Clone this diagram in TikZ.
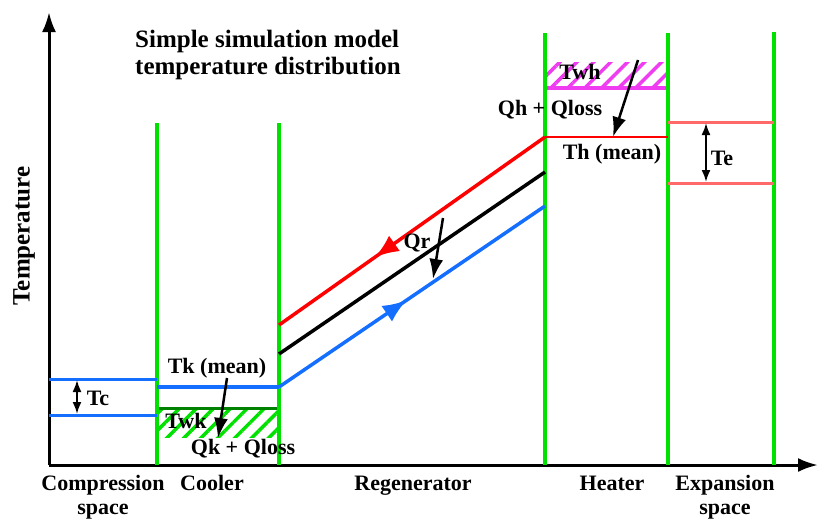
\documentclass[tikz,border=0pt]{standalone}
\usepackage{fontspec}
\setmainfont{Liberation Serif}
\usetikzlibrary{arrows.meta,patterns.meta,decorations.markings}

\definecolor{wallgreen}{RGB}{0,225,0}
\definecolor{darkwall}{RGB}{0,130,0}
\definecolor{coldblue}{RGB}{20,110,255}
\definecolor{hotred}{RGB}{255,0,0}
\definecolor{hotpink}{RGB}{240,60,240}
\definecolor{salmon}{RGB}{255,105,105}

\begin{document}
\begin{tikzpicture}[x=1pt, y=-1pt, >={Latex[length=20pt,width=14pt]},
    lbl/.style={font=\bfseries\fontsize{22}{24}\selectfont, inner sep=0pt},
    big/.style={font=\bfseries\fontsize{25}{27}\selectfont, inner sep=0pt},
    wall/.style={wallgreen, line width=3.5pt},
    gasline/.style={line width=3.5pt},
    heatflow/.style={line width=2.5pt, ->},
    span/.style={line width=2pt, {Latex[length=12pt,width=9pt]}-{Latex[length=12pt,width=9pt]}},
    hatch/.style={pattern={Lines[angle=45,distance=12pt,line width=3.5pt]}, pattern color=#1}]
    \useasboundingbox (0,0) rectangle (821,520);

    % axes
    \coordinate (origin) at (49,465);
    \coordinate (ytip) at (49,12);
    \coordinate (xtip) at (818,465);
    \draw[line width=3pt, ->] (origin) -- (ytip);
    \draw[line width=3pt, ->] (origin) -- (xtip);
    \node[big, rotate=90] (ylabel) at (24,236) {Temperature};

    % wall temperature bands
    \fill[hatch=wallgreen] (157,408) rectangle (279,437);
    \draw[darkwall, line width=3pt] (157,408) -- (279,408);
    \fill[hatch=hotpink] (545,62) rectangle (668,88);
    \draw[hotpink, line width=3.5pt] (545,88) -- (668,88);

    % component boundaries
    \draw[wall] (157,123) -- (157,465);
    \draw[wall] (279,123) -- (279,465);
    \draw[wall] (545,33) -- (545,465);
    \draw[wall] (668,33) -- (668,465);
    \draw[wall] (774,32) -- (774,465);

    % compression and expansion space
    \draw[coldblue, line width=3pt] (49,379) -- (157,379);
    \draw[coldblue, line width=3pt] (49,415) -- (157,415);
    \draw[salmon, line width=3pt] (668,122) -- (774,122);
    \draw[salmon, line width=3pt] (668,183) -- (774,183);

    % gas temperatures
    \coordinate (kend) at (279,387);
    \coordinate (hend) at (545,137);
    \draw[coldblue, gasline] (157,387) -- (kend);
    \draw[coldblue, gasline, decoration={markings, mark=at position 0.48 with {\arrow{Latex[length=24pt,width=19pt]}}}, postaction=decorate]
        (kend) -- (545,206);
    \draw[black, gasline] (279,354) -- (545,172);
    \draw[hotred, gasline, decoration={markings, mark=at position 0.64 with {\arrow{Latex[length=24pt,width=19pt]}}}, postaction=decorate]
        (hend) -- (279,325);
    \draw[hotred, line width=2pt] (hend) -- (668,137);

    % heat flows
    \coordinate (qk1) at (227,378);
    \coordinate (qk2) at (218,438);
    \draw[heatflow] (qk1) -- (qk2);
    \coordinate (qh1) at (638,60);
    \coordinate (qh2) at (613,137);
    \draw[heatflow] (qh1) -- (qh2);
    \coordinate (qr1) at (443,218);
    \coordinate (qr2) at (433,279);
    \draw[heatflow] (qr1) -- (qr2);

    % temperature swings
    \coordinate (tc1) at (77,380);
    \coordinate (tc2) at (77,414);
    \draw[span] (tc1) -- (tc2);
    \coordinate (te1) at (706,123);
    \coordinate (te2) at (706,182);
    \draw[span] (te1) -- (te2);

    % labels
    \node[big, anchor=base west, align=left] (title) at (135,74) {Simple simulation model\\temperature distribution};
    \node[lbl] (tk) at (217,368) {Tk (mean)};
    \node[lbl] (twk) at (186,421) {Twk};
    \node[lbl] (qk) at (243,449) {Qk + Qloss};
    \node[lbl] (qr) at (417,243) {Qr};
    \node[lbl] (twh) at (580,72) {Twh};
    \node[lbl] (qh) at (550,110) {Qh + Qloss};
    \node[lbl] (th) at (612,154) {Th (mean)};
    \node[lbl] (tc) at (98,398) {Tc};
    \node[lbl] (te) at (722,158) {Te};

    \node[lbl, align=center, anchor=base] (comp) at (103,514) {Compression\\space};
    \node[lbl, anchor=base] (cool) at (212,490) {Cooler};
    \node[lbl, anchor=base] (regen) at (413,490) {Regenerator};
    \node[lbl, anchor=base] (heat) at (612,490) {Heater};
    \node[lbl, align=center, anchor=base] (exp) at (725,514) {Expansion\\space};
\end{tikzpicture}
\end{document}
